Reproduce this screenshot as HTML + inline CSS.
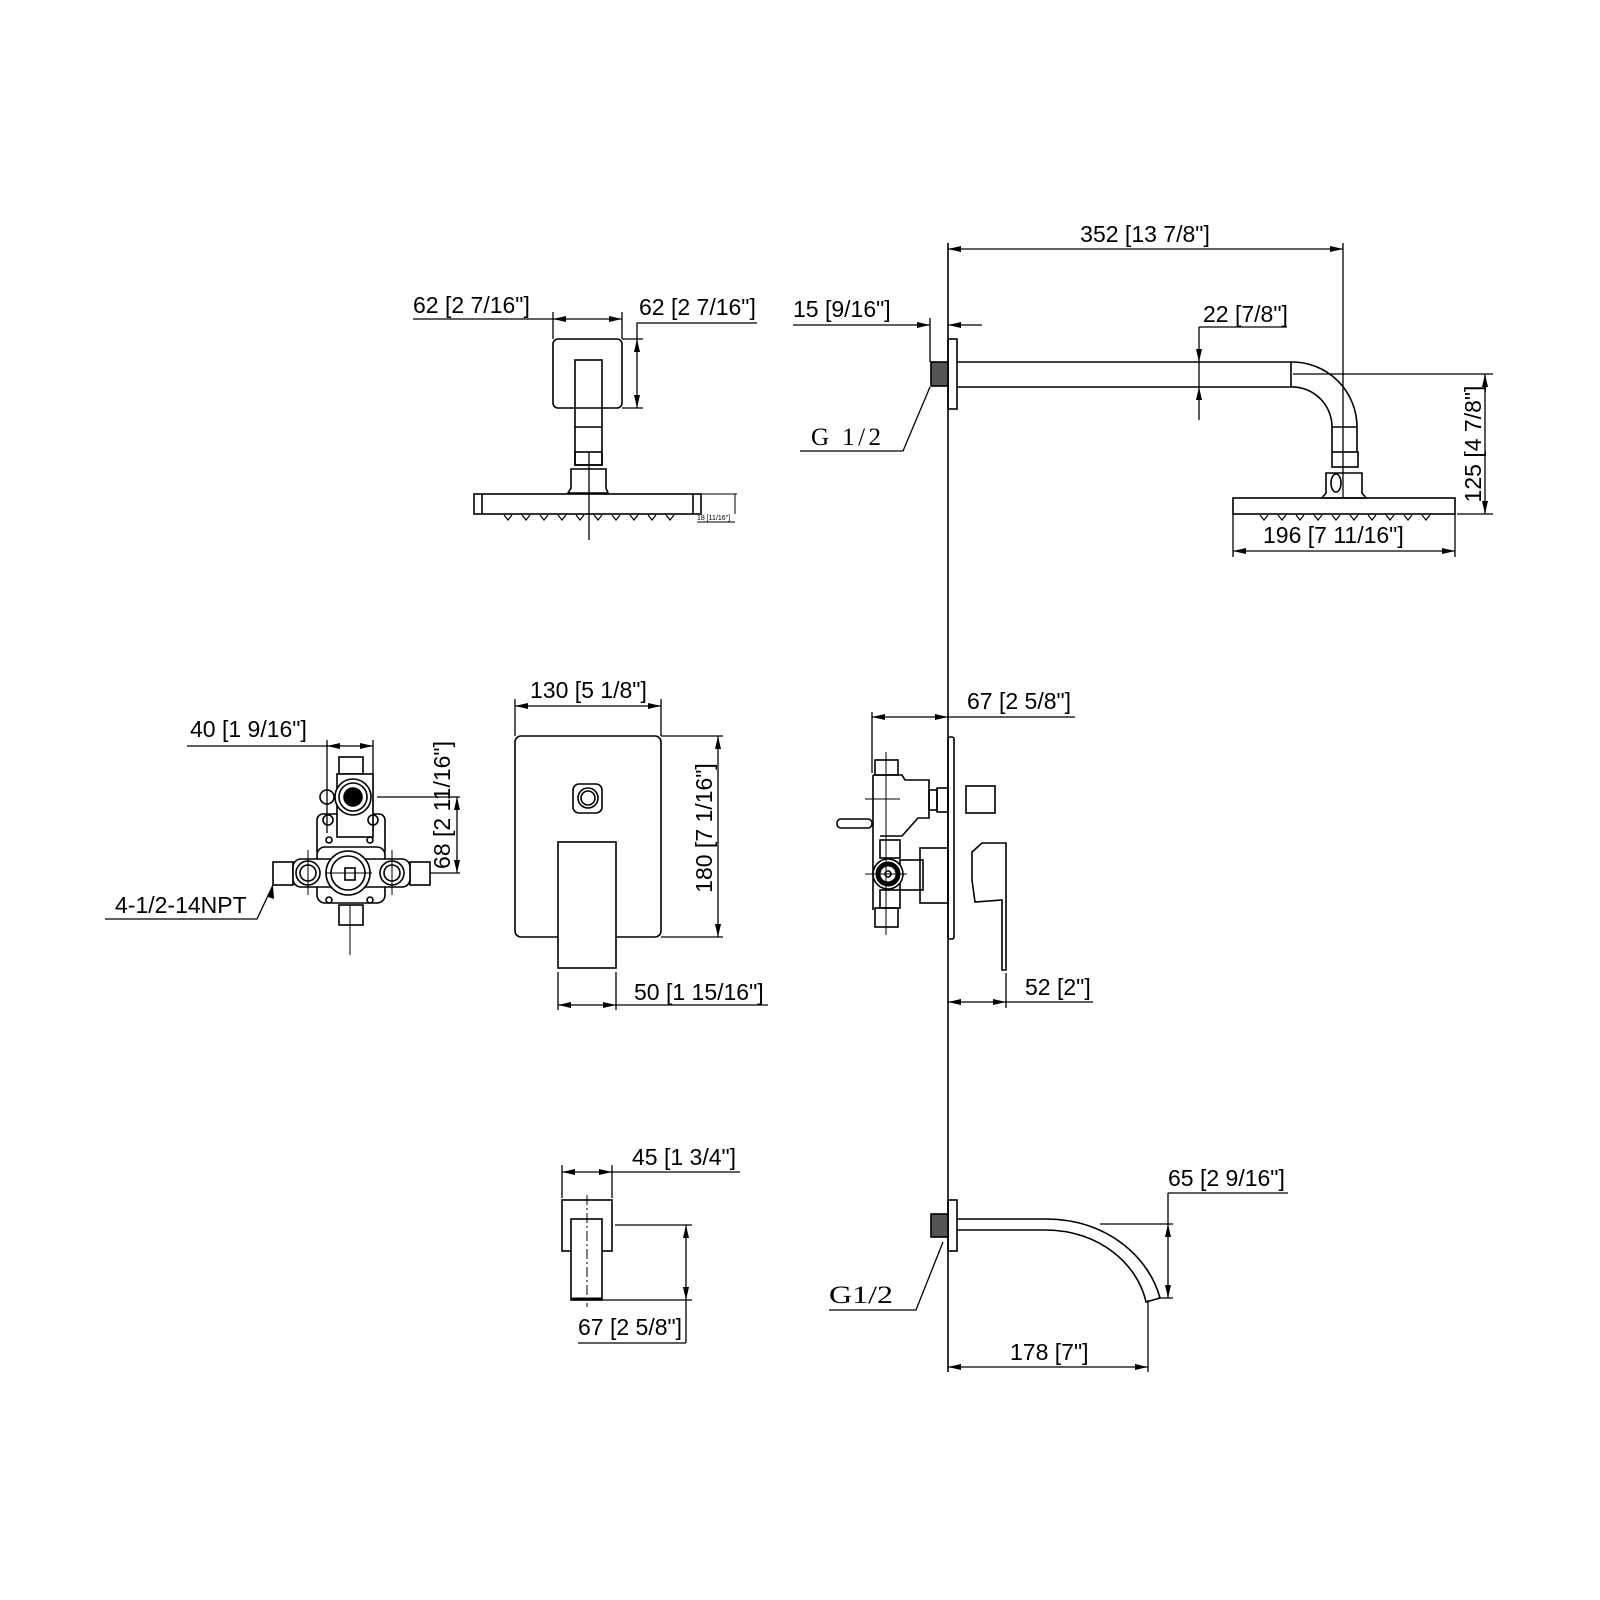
<!DOCTYPE html>
<html><head><meta charset="utf-8"><style>
html,body{margin:0;padding:0;background:#fff;}
svg{display:block;}
text{font-family:"Liberation Sans",sans-serif;font-size:23px;fill:#000;}
.s{font-family:"Liberation Serif",serif;font-size:25px;}
</style></head><body>
<svg width="1600" height="1600" viewBox="0 0 1600 1600" xmlns="http://www.w3.org/2000/svg">
<g fill="none" stroke="#000" stroke-width="1.6">
<!-- wall line -->
<path d="M948 243 V1372"/>

<!-- ===== TOP RIGHT: shower arm ===== -->
<path d="M948 249 H1343" stroke-width="1.3"/>
<path d="M1343 243 V497" stroke-width="1.3"/>
<!-- 15 dim -->
<path d="M793 325 H930 M948 325 H982 M930 318 V362" stroke-width="1.3"/>
<!-- escutcheon / nipple -->
<rect x="948" y="339" width="9" height="70"/>
<rect x="931" y="362" width="17" height="24" fill="#555"/>
<!-- arm -->
<path d="M957 362 H1291 M957 387 H1291 M1291 362 V387"/>
<path d="M1291 362 A65 65 0 0 1 1357 427 M1291 387 A40 40 0 0 1 1332 427"/>
<path d="M1332 427 V452 M1357 427 V452 M1332 427 H1357"/>
<rect x="1332" y="452" width="26" height="15"/>
<path d="M1326 473 H1362 V493 L1366 498 H1322 L1326 493 Z"/>
<ellipse cx="1336" cy="483" rx="5" ry="9"/>
<rect x="1233" y="498" width="222" height="16"/>
<!-- 125 dim -->
<path d="M1293 374 H1493 M1457 514 H1493 M1485 374 V514" stroke-width="1.3"/>
<!-- 196 -->
<path d="M1233 551 H1455 M1233 514 V557 M1455 514 V557" stroke-width="1.3"/>
<!-- 22 -->
<path d="M1199 327 V420 M1199 327 H1287" stroke-width="1.3"/>
<!-- G 1/2 leader -->
<path d="M800 451 H903 L930 387" stroke-width="1.3"/>

<!-- ===== TOP LEFT: shower front ===== -->
<path d="M413 319 H622 M553 312 V339 M622 312 V339" stroke-width="1.3"/>
<rect x="553" y="339" width="69" height="69" rx="5"/>
<path d="M622 339 H643 M622 408 H643 M637 339 V323 H757 M637 339 V408" stroke-width="1.3"/>
<rect x="575" y="360" width="27" height="105"/>
<path d="M575 427 H602"/>
<rect x="575" y="452" width="27" height="13"/>
<path d="M571 469 H606 V488 L608 493 H568 L571 488 Z"/>
<path d="M589 452 V540" stroke-width="1.3"/>
<rect x="474" y="494" width="227" height="20"/>
<path d="M482 494 V514 M693 494 V514"/>
<path d="M701 494 H737 M735 494 V514 M697 522 H735" stroke-width="1"/>

<!-- ===== middle: valve trim front ===== -->
<rect x="515" y="736" width="146" height="201" rx="6"/>
<rect x="573" y="784" width="29" height="29" rx="6"/>
<circle cx="588" cy="798" r="10"/><circle cx="588" cy="798" r="7"/>
<rect x="558" y="842" width="58" height="126" fill="#fff"/>
<path d="M515 699 V736 M661 699 V736 M515 706 H661" stroke-width="1.3"/>
<path d="M661 736 H723 M661 937 H723 M718 736 V937" stroke-width="1.3"/>
<path d="M558 972 V1010 M616 972 V1010 M558 1005 H768" stroke-width="1.3"/>

<!-- ===== left: rough valve ===== -->
<path d="M187 746 H373 M327 740 V833 M373 740 V833" stroke-width="1.3"/>
<rect x="339" y="757" width="24" height="17"/>
<rect x="317" y="814" width="68" height="43" rx="6"/>
<rect x="337" y="774" width="36" height="63" fill="#fff"/>
<circle cx="353" cy="797" r="18" fill="#fff"/>
<circle cx="353" cy="797" r="14"/>
<circle cx="353" cy="797" r="9" fill="#000"/>
<circle cx="327" cy="797" r="7"/>
<circle cx="328" cy="820" r="5"/><circle cx="373" cy="820" r="5"/>
<rect x="317" y="847" width="68" height="56" rx="8" fill="#fff"/>
<rect x="273" y="862" width="20" height="23"/>
<rect x="410" y="862" width="20" height="23"/>
<rect x="293" y="859" width="117" height="28" rx="8" fill="#fff"/>
<circle cx="308" cy="873" r="12"/><circle cx="308" cy="873" r="8"/>
<circle cx="392" cy="873" r="12"/><circle cx="392" cy="873" r="8"/>
<circle cx="348" cy="873" r="22" fill="#fff"/><circle cx="348" cy="873" r="17"/>
<rect x="345" y="868" width="10" height="12"/>
<circle cx="329" cy="840" r="3"/><circle cx="370" cy="840" r="3"/>
<circle cx="329" cy="900" r="3"/><circle cx="370" cy="900" r="3"/>
<rect x="339" y="905" width="24" height="20"/>
<path d="M350 905 V955 M308 850 V895 M392 850 V895 M325 873 H372" stroke-width="1"/>
<path d="M377 797 H460 M430 873 H460 M457 797 V873" stroke-width="1.3"/>
<path d="M105 919 H257 L273 885" stroke-width="1.3"/>

<!-- ===== side valve ===== -->
<path d="M872 717 H1075 M872 712 V773" stroke-width="1.3"/>
<rect x="948" y="737" width="6" height="202" rx="2"/>
<rect x="929" y="790" width="8" height="20"/>
<rect x="937" y="788" width="11" height="24"/>
<rect x="966" y="786" width="29" height="27"/>
<rect x="875" y="760" width="23" height="15"/>
<path d="M873 775 H902 L905 780 H929 V818 H918 L902 836 H880 M873 775 V910"/>
<rect x="837" y="819" width="35" height="9" rx="4"/>
<rect x="880" y="840" width="20" height="18"/>
<rect x="880" y="890" width="20" height="18"/>
<rect x="900" y="860" width="23" height="30"/>
<rect x="920" y="848" width="28" height="55"/>
<circle cx="888" cy="874" r="15" fill="#fff"/>
<circle cx="888" cy="874" r="10" stroke-width="5"/>
<circle cx="888" cy="874" r="3"/>
<rect x="875" y="908" width="23" height="19"/>
<path d="M865 799 H900 M886 752 V935 M865 874 H907" stroke-width="1"/>
<path d="M972 852 L982 843 H1006 V970 H1002 V900 L975 902 L972 880 Z"/>
<path d="M948 1002 H1093 M1006 973 V1008" stroke-width="1.3"/>

<!-- ===== bottom left: tub spout front ===== -->
<path d="M562 1172 H740 M562 1165 V1198 M612 1165 V1198" stroke-width="1.3"/>
<rect x="562" y="1200" width="50" height="51"/>
<rect x="571" y="1219" width="31" height="81" fill="#fff"/>
<path d="M571 1299 H602" stroke-width="3"/>
<path d="M587 1195 V1307" stroke-width="1" stroke-dasharray="10 3 2 3"/>
<path d="M615 1225 H692 M602 1300 H692 M686 1225 V1343 M578 1343 H686" stroke-width="1.3"/>

<!-- ===== bottom right: tub spout side ===== -->
<rect x="948" y="1200" width="9" height="51"/>
<rect x="931" y="1214" width="17" height="23" fill="#555"/>
<path d="M957 1219 H1045 C1110 1219 1150 1260 1160 1298 L1146 1302 C1138 1265 1100 1230 1045 1230 H957"/>
<path d="M1100 1224 H1173 M1158 1298 H1173 M1168 1193 V1298 M1168 1193 H1288" stroke-width="1.3"/>
<path d="M829 1310 H916 L943 1242" stroke-width="1.3"/>
<path d="M948 1367 H1148 M1148 1300 V1372" stroke-width="1.3"/>
</g>

<!-- nozzles -->
<g fill="#fff" stroke="#000" stroke-width="1.2">
<path d="M1260 515 l4 5 l4 -5 M1278 515 l4 5 l4 -5 M1296 515 l4 5 l4 -5 M1314 515 l4 5 l4 -5 M1332 515 l4 5 l4 -5 M1350 515 l4 5 l4 -5 M1368 515 l4 5 l4 -5 M1386 515 l4 5 l4 -5 M1404 515 l4 5 l4 -5 M1422 515 l4 5 l4 -5"/>
<path d="M504 515 l4 5 l4 -5 M522 515 l4 5 l4 -5 M540 515 l4 5 l4 -5 M558 515 l4 5 l4 -5 M576 515 l4 5 l4 -5 M594 515 l4 5 l4 -5 M612 515 l4 5 l4 -5 M630 515 l4 5 l4 -5 M648 515 l4 5 l4 -5 M666 515 l4 5 l4 -5"/>
</g>

<!-- arrowheads -->
<g fill="#000">
<polygon points="948,249 961,246 961,252"/><polygon points="1343,249 1330,246 1330,252"/>
<polygon points="930,325 917,322 917,328"/><polygon points="948,325 961,322 961,328"/>
<polygon points="1485,374 1482,387 1488,387"/><polygon points="1485,514 1482,501 1488,501"/>
<polygon points="1233,551 1246,548 1246,554"/><polygon points="1455,551 1442,548 1442,554"/>
<polygon points="1199,362 1196,349 1202,349"/><polygon points="1199,387 1196,400 1202,400"/>
<polygon points="553,319 566,316 566,322"/><polygon points="622,319 609,316 609,322"/>
<polygon points="637,339 634,352 640,352"/><polygon points="637,408 634,395 640,395"/>
<polygon points="515,706 528,703 528,709"/><polygon points="661,706 648,703 648,709"/>
<polygon points="718,736 715,749 721,749"/><polygon points="718,937 715,924 721,924"/>
<polygon points="558,1005 571,1002 571,1008"/><polygon points="616,1005 603,1002 603,1008"/>
<polygon points="327,746 340,743 340,749"/><polygon points="373,746 360,743 360,749"/>
<polygon points="457,797 454,810 460,810"/><polygon points="457,873 454,860 460,860"/>
<polygon points="273,885 268,897 274,899"/>
<polygon points="872,717 885,714 885,720"/><polygon points="948,717 935,714 935,720"/>
<polygon points="948,1002 961,999 961,1005"/><polygon points="1006,1002 993,999 993,1005"/>
<polygon points="562,1172 575,1169 575,1175"/><polygon points="612,1172 599,1169 599,1175"/>
<polygon points="686,1225 683,1238 689,1238"/><polygon points="686,1300 683,1287 689,1287"/>
<polygon points="1168,1224 1165,1237 1171,1237"/><polygon points="1168,1298 1165,1285 1171,1285"/>
<polygon points="948,1367 961,1364 961,1370"/><polygon points="1148,1367 1135,1364 1135,1370"/>
</g>

<!-- texts -->
<text x="1145" y="242" text-anchor="middle">352 [13 7/8"]</text>
<text x="793" y="317">15 [9/16"]</text>
<text x="1203" y="322">22 [7/8"]</text>
<text transform="translate(1481,444) rotate(-90)" text-anchor="middle">125 [4 7/8"]</text>
<text x="1263" y="543">196 [7 11/16"]</text>
<text class="s" x="811" y="445" textLength="70" lengthAdjust="spacing">G 1/2</text>
<text x="413" y="313">62 [2 7/16"]</text>
<text x="639" y="315">62 [2 7/16"]</text>
<text x="697" y="520" style="font-size:7px">18 [11/16"]</text>
<text x="530" y="698">130 [5 1/8"]</text>
<text transform="translate(712,828) rotate(-90)" text-anchor="middle">180 [7 1/16"]</text>
<text x="634" y="1000">50 [1 15/16"]</text>
<text x="190" y="737">40 [1 9/16"]</text>
<text transform="translate(450,805) rotate(-90)" text-anchor="middle">68 [2 11/16"]</text>
<text x="115" y="913">4-1/2-14NPT</text>
<text x="967" y="709">67 [2 5/8"]</text>
<text x="1025" y="995">52 [2"]</text>
<text x="632" y="1165">45 [1 3/4"]</text>
<text x="578" y="1335">67 [2 5/8"]</text>
<text x="1168" y="1186">65 [2 9/16"]</text>
<text class="s" x="829" y="1303" textLength="64" lengthAdjust="spacingAndGlyphs">G1/2</text>
<text x="1010" y="1360">178 [7"]</text>
</svg>
</body></html>
